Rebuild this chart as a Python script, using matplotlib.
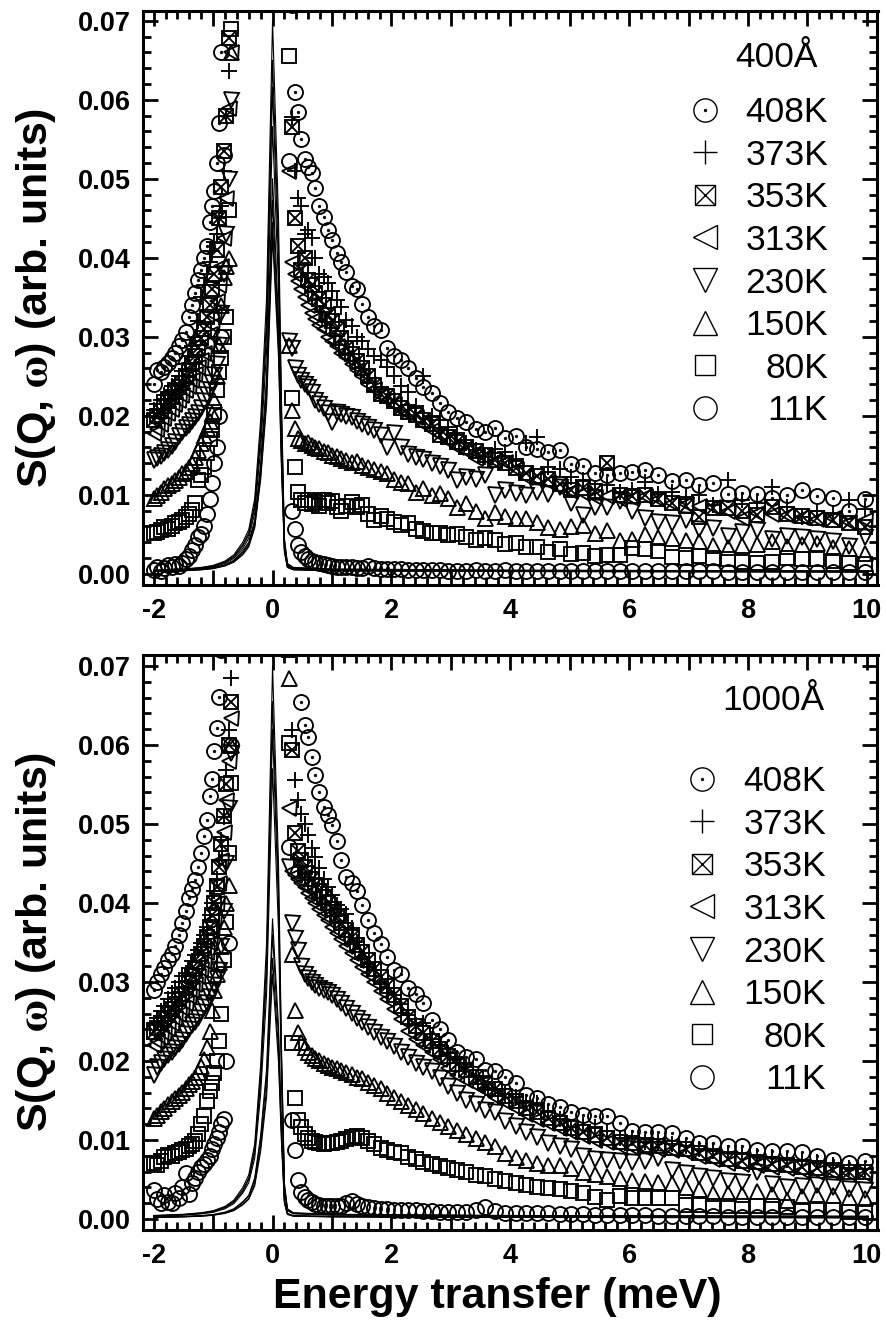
import numpy as np
import matplotlib.pyplot as plt
from matplotlib.ticker import MultipleLocator, FuncFormatter

plt.rcParams['font.family'] = ['Liberation Sans', 'DejaVu Sans']
plt.rcParams['font.weight'] = 'bold'
plt.rcParams['mathtext.fontset'] = 'stix'
plt.rcParams['axes.unicode_minus'] = False

W, H = 887, 1321

# energy channels (meV), gain side and loss side
E_GAIN = [-2.00, -1.94, -1.88, -1.82, -1.76, -1.70, -1.64, -1.58, -1.52, -1.46,
          -1.40, -1.35, -1.30, -1.25, -1.20, -1.15, -1.10, -1.06, -1.02, -0.98,
          -0.94, -0.90, -0.86, -0.82, -0.78, -0.74, -0.70]
E_LOSS = [0.28, 0.33, 0.38, 0.43, 0.48, 0.54, 0.60, 0.66, 0.72, 0.79,
          0.86, 0.93, 1.00, 1.08, 1.16, 1.24, 1.33, 1.42, 1.51, 1.61,
          1.71, 1.82, 1.93, 2.04, 2.16, 2.28, 2.41, 2.54, 2.68, 2.82,
          2.96, 3.11, 3.26, 3.42, 3.58, 3.75, 3.92, 4.09, 4.27, 4.45,
          4.64, 4.83, 5.02, 5.22, 5.42, 5.63, 5.84, 6.05, 6.27, 6.49,
          6.72, 6.95, 7.18, 7.42, 7.66, 7.90, 8.15, 8.40, 8.65, 8.91,
          9.17, 9.43, 9.70, 9.97]

TEMPS = ["408K", "373K", "353K", "313K", "230K", "150K", "80K", "11K"]

# ---- 400 A sample, S(Q,w) in units of 1e-3 ----
a408_gain = [24.0, 25.8, 25.5, 26.2, 26.7, 27.3, 28.0, 28.8, 29.6, 30.6,
             32.5, 34.0, 35.5, 37.2, 38.5, 40.0, 41.5, 44.5, 46.5, 48.5,
             52.0, 57.0, 66.0, 74.0, 80.0, 84.0, 88.0]
a408_loss = [74.0, 72.0, 61.0, 58.5, 55.0, 52.5, 51.5, 50.7, 48.8, 46.5,
             45.2, 43.5, 42.2, 40.6, 39.5, 38.2, 36.4, 36.0, 34.1, 32.5,
             31.4, 30.8, 28.6, 27.5, 27.0, 26.0, 24.8, 23.6, 22.9, 21.6,
             20.5, 19.7, 19.2, 18.3, 18.0, 18.4, 17.2, 17.4, 16.1, 15.8,
             15.4, 15.7, 13.9, 13.6, 12.8, 12.5, 12.7, 12.9, 13.1, 12.5,
             11.7, 11.8, 11.2, 11.5, 10.1, 10.2, 10.1, 9.6, 10.0, 10.6,
             9.8, 9.6, 7.9, 9.5]
a373_gain = [20.7, 21.5, 22.0, 22.6, 23.0, 23.7, 24.2, 25.0, 25.6, 26.5,
             27.5, 28.8, 30.0, 32.0, 35.0, 36.5, 38.0, 39.5, 40.8, 42.0,
             43.0, 45.0, 46.5, 51.0, 58.0, 63.6, 78.0]
a373_loss = [72.0, 57.8, 51.0, 47.5, 46.5, 43.0, 43.5, 42.5, 40.0, 38.0,
             37.5, 36.8, 35.8, 34.6, 33.8, 32.1, 31.3, 30.0, 29.5, 28.5,
             27.6, 27.0, 26.2, 25.0, 23.7, 23.0, 21.2, 25.0, 20.0, 19.5,
             18.6, 17.8, 16.5, 15.6, 14.8, 15.8, 15.4, 14.5, 16.5, 17.3,
             13.5, 13.3, 12.3, 11.8, 10.6, 11.2, 10.4, 10.6, 11.6, 10.1,
             10.3, 9.7, 9.9, 8.7, 11.8, 9.3, 9.0, 11.0, 8.5, 7.2,
             8.0, 7.6, 9.3, 8.2]
a353_gain = [19.5, 20.0, 20.6, 21.2, 21.8, 22.4, 23.0, 23.6, 24.2, 25.0,
             25.8, 26.6, 27.6, 28.6, 29.8, 31.0, 32.5, 34.0, 36.0, 38.0,
             41.0, 45.0, 49.0, 53.5, 58.0, 67.8, 76.0]
a353_loss = [72.0, 56.6, 45.0, 41.5, 38.5, 40.0, 37.2, 36.5, 35.5, 34.8,
             34.0, 32.8, 32.0, 31.0, 29.8, 28.6, 27.8, 26.9, 26.0, 25.0,
             23.9, 22.7, 22.5, 21.8, 21.0, 20.5, 20.1, 19.4, 19.0, 17.6,
             17.3, 16.7, 16.0, 15.5, 15.0, 14.4, 14.0, 13.4, 12.8, 12.4,
             12.0, 11.3, 10.6, 10.8, 10.5, 14.0, 10.0, 9.8, 10.0, 9.4,
             8.9, 8.6, 7.2, 8.3, 8.3, 7.9, 7.4, 8.5, 7.6, 7.3,
             7.0, 6.8, 6.4, 5.9]
a313_gain = [17.8, 18.3, 19.0, 19.7, 20.3, 20.9, 21.5, 22.0, 22.6, 23.2,
             23.8, 24.5, 25.3, 26.2, 27.0, 28.0, 29.2, 30.3, 31.5, 32.8,
             34.5, 36.5, 39.0, 42.5, 47.5, 59.0, 66.0]
a313_loss = [51.0, 39.5, 38.0, 37.0, 36.0, 35.0, 34.0, 33.0, 32.3, 31.5,
             31.0, 30.0, 29.5, 28.8, 28.0, 27.4, 26.5, 25.8, 25.0, 24.0,
             23.4, 22.5, 22.0, 21.5, 20.7, 20.3, 19.9, 19.0, 18.2, 17.5,
             16.8, 16.0, 15.5, 14.6, 14.8, 14.3, 14.2, 13.2, 12.3, 12.0,
             11.6, 10.9, 10.5, 10.2, 9.7, 9.8, 9.5, 9.6, 9.8, 9.4,
             9.0, 8.8, 8.6, 8.5, 8.0, 7.0, 7.7, 7.5, 7.4, 7.2,
             6.9, 7.0, 6.6, 6.8]
a230_gain = [14.4, 14.6, 14.9, 15.3, 15.7, 16.2, 16.7, 17.4, 17.9, 18.4,
             18.8, 19.3, 19.8, 20.4, 21.0, 21.8, 22.6, 23.3, 24.2, 25.2,
             26.5, 29.0, 33.0, 38.0, 43.0, 50.0, 60.0]
a230_loss = [29.5, 28.6, 26.0, 25.2, 24.5, 24.0, 23.6, 23.0, 22.0, 21.5,
             21.0, 20.3, 19.2, 20.5, 20.2, 20.0, 19.8, 19.3, 19.0, 18.6,
             18.2, 17.5, 16.1, 17.8, 16.0, 15.2, 14.8, 14.5, 14.0, 13.6,
             13.1, 11.8, 12.2, 12.0, 12.5, 9.9, 10.6, 10.2, 10.0, 10.3,
             10.1, 11.0, 8.9, 7.4, 8.5, 8.5, 9.2, 8.0, 7.1, 6.6,
             6.4, 6.8, 5.6, 5.8, 4.8, 5.3, 5.5, 4.4, 4.8, 4.6,
             4.4, 4.2, 3.5, 4.6]
a150_gain = [9.6, 10.0, 10.4, 10.8, 11.2, 11.5, 11.9, 12.3, 12.7, 13.0,
             13.5, 14.0, 14.8, 15.6, 16.5, 17.5, 18.5, 19.3, 20.3, 22.0,
             25.0, 29.0, 34.0, 37.6, 39.0, 40.0, 66.0]
a150_loss = [29.0, 20.7, 18.5, 17.2, 16.9, 16.6, 16.7, 16.3, 16.0, 15.9,
             15.5, 15.4, 15.0, 14.9, 14.6, 14.4, 14.1, 14.3, 13.7, 13.5,
             13.3, 13.0, 12.7, 12.0, 11.6, 11.5, 10.4, 10.8, 9.9, 10.2,
             9.6, 8.4, 9.0, 8.0, 7.1, 7.8, 7.3, 7.0, 7.0, 6.6,
             5.9, 5.6, 6.0, 6.2, 5.1, 5.5, 4.3, 4.4, 5.0, 4.6,
             4.5, 4.3, 4.2, 3.6, 3.4, 3.6, 3.8, 4.2, 3.5, 3.7,
             3.9, 3.4, 3.3, 2.6]
a80_gain = [5.1, 5.3, 5.5, 5.9, 5.7, 6.1, 6.4, 6.6, 6.8, 7.2,
            7.6, 8.1, 9.0, 11.9, 12.5, 13.5, 15.3, 17.0, 18.2, 20.5,
            23.3, 25.5, 27.3, 30.0, 32.5, 46.0, 69.0]
a80_loss = [65.5, 22.2, 13.5, 10.4, 9.3, 9.0, 9.3, 8.8, 9.1, 8.6,
            9.3, 8.9, 9.2, 8.5, 8.0, 8.6, 9.1, 8.4, 8.7, 7.6,
            6.8, 7.3, 6.9, 6.6, 6.2, 6.4, 5.6, 5.4, 5.2, 5.1,
            4.9, 5.0, 4.6, 4.3, 4.5, 4.3, 3.7, 3.9, 3.4, 3.4,
            2.8, 3.1, 2.5, 2.6, 2.2, 2.4, 2.4, 3.2, 3.1, 2.9,
            2.1, 2.0, 2.2, 2.0, 1.9, 1.5, 1.4, 1.5, 2.0, 1.8,
            1.8, 1.6, 1.3, 1.2]
a11_gain = [0.5, 0.9, 0.4, 0.7, 1.1, 0.8, 1.2, 1.0, 1.4, 1.9,
            2.3, 3.0, 3.6, 4.6, 5.0, 6.0, 7.5, 9.5, 11.5, 14.0,
            16.0, 20.0, 30.0, 53.0, 75.0, 80.0, 85.0]
a11_loss = [52.3, 8.0, 5.6, 3.6, 2.7, 2.2, 1.8, 1.6, 1.5, 1.3,
            1.2, 1.1, 1.0, 0.9, 0.9, 0.8, 0.8, 0.7, 0.7, 1.0,
            0.7, 0.6, 0.6, 0.6, 0.6, 0.5, 0.5, 0.5, 0.5, 0.5,
            0.4, 0.4, 0.4, 0.5, 0.4, 0.4, 0.5, 0.4, 0.4, 0.4,
            0.3, 0.4, 0.3, 0.3, 0.3, 0.3, 0.3, 0.3, 0.3, 0.3,
            0.3, 0.3, 0.3, 0.3, 0.2, 0.2, 0.2, 0.2, 0.2, 0.2,
            0.2, 0.2, 0.2, 0.2]

# ---- 1000 A sample ----
b408_gain = [29.0, 30.0, 31.0, 31.8, 32.8, 33.5, 34.6, 36.0, 37.5, 39.0,
             40.6, 41.8, 42.9, 44.6, 46.3, 48.5, 50.5, 53.5, 55.7, 59.2,
             62.1, 66.1, 72.0, 76.0, 80.0, 84.0, 88.0]
b408_loss = [75.0, 74.0, 73.5, 73.5, 65.5, 62.5, 61.0, 58.5, 56.2, 54.0,
             52.2, 51.2, 49.9, 47.8, 45.5, 43.3, 42.5, 41.5, 39.8, 37.8,
             36.2, 34.8, 33.2, 31.5, 31.0, 29.2, 28.5, 27.3, 25.2, 24.0,
             22.6, 21.2, 20.5, 20.2, 18.9, 18.7, 18.0, 17.2, 15.7, 15.3,
             14.6, 14.2, 13.6, 13.2, 13.0, 13.0, 12.1, 11.1, 11.0, 11.0,
             10.9, 10.3, 9.6, 9.6, 9.2, 9.2, 8.7, 8.6, 8.6, 8.5,
             8.0, 7.5, 7.1, 7.3]
b373_gain = [24.8, 25.5, 26.3, 27.0, 27.8, 28.6, 29.3, 30.0, 30.7, 31.1,
             31.8, 32.6, 33.4, 34.0, 35.0, 36.0, 37.0, 38.5, 40.0, 41.5,
             43.0, 45.5, 48.0, 50.9, 56.8, 61.9, 68.5]
b373_loss = [73.0, 61.9, 55.6, 53.0, 51.3, 50.0, 48.6, 47.0, 45.8, 44.4,
             43.0, 42.0, 41.0, 39.8, 39.3, 38.6, 36.8, 35.1, 33.0, 32.3,
             31.5, 30.0, 29.2, 28.3, 27.2, 25.8, 24.6, 24.8, 22.8, 22.0,
             21.0, 20.4, 19.3, 18.0, 16.6, 16.4, 15.8, 15.4, 14.8, 14.7,
             13.6, 12.6, 11.7, 11.9, 11.7, 11.2, 10.3, 10.2, 9.8, 9.8,
             9.5, 9.2, 8.8, 8.6, 8.4, 8.3, 8.0, 7.8, 7.5, 7.4,
             7.2, 6.8, 6.5, 6.3]
b353_gain = [23.7, 24.2, 24.8, 25.3, 26.0, 26.6, 27.2, 27.8, 28.5, 29.2,
             30.0, 30.8, 31.6, 32.5, 33.5, 34.5, 35.7, 37.0, 38.5, 40.0,
             42.0, 44.5, 47.5, 51.0, 55.0, 60.0, 65.5]
b353_loss = [72.0, 59.4, 48.9, 46.6, 45.5, 44.6, 43.8, 43.0, 42.3, 41.5,
             40.8, 40.0, 39.2, 38.4, 37.5, 36.6, 35.7, 34.7, 33.8, 32.8,
             31.7, 30.6, 29.5, 28.3, 27.0, 25.6, 24.4, 23.5, 22.5, 21.5,
             20.6, 19.6, 18.9, 18.0, 17.2, 16.4, 15.6, 14.9, 14.1, 13.5,
             12.8, 12.1, 11.5, 11.0, 10.6, 10.3, 9.8, 9.6, 9.4, 9.2,
             9.0, 8.8, 8.4, 8.0, 7.6, 7.4, 7.2, 7.0, 6.8, 6.6,
             6.4, 6.2, 6.0, 5.9]
b313_gain = [22.0, 22.5, 23.0, 23.6, 24.2, 24.8, 25.4, 26.0, 26.7, 27.4,
             28.2, 29.0, 29.8, 30.7, 31.6, 32.6, 33.8, 35.0, 36.4, 38.0,
             40.0, 42.5, 45.5, 49.0, 53.0, 58.0, 63.4]
b313_loss = [52.0, 44.0, 43.5, 43.0, 42.5, 42.0, 41.3, 40.6, 40.0, 39.2,
             38.5, 37.8, 37.0, 36.2, 35.4, 34.6, 33.7, 32.8, 31.9, 31.0,
             30.0, 28.9, 27.8, 26.6, 25.3, 23.8, 22.8, 22.0, 21.2, 20.2,
             19.1, 18.2, 17.6, 17.0, 16.3, 15.5, 14.8, 14.0, 13.3, 12.7,
             12.1, 11.5, 11.0, 10.5, 10.0, 9.7, 9.3, 9.1, 9.0, 8.8,
             8.7, 8.5, 8.0, 7.6, 7.1, 7.0, 6.8, 6.6, 6.4, 6.2,
             6.0, 5.9, 5.8, 5.7]
b230_gain = [18.2, 19.3, 19.8, 20.3, 20.8, 21.2, 21.6, 22.1, 22.7, 23.4,
             24.0, 24.5, 25.0, 25.5, 26.2, 26.8, 27.4, 28.1, 28.8, 29.6,
             30.4, 31.5, 34.5, 39.0, 45.0, 52.0, 59.0]
b230_loss = [44.6, 37.5, 35.6, 34.0, 32.0, 31.0, 30.5, 30.0, 29.6, 29.3,
             29.0, 28.7, 28.4, 27.9, 27.3, 26.7, 26.1, 25.5, 24.9, 24.3,
             23.7, 23.0, 22.5, 21.9, 21.2, 20.5, 19.7, 19.2, 18.7, 17.8,
             16.8, 15.9, 15.1, 14.5, 13.8, 13.5, 12.4, 11.8, 11.0, 10.4,
             9.6, 9.2, 8.8, 8.0, 7.6, 7.5, 7.3, 7.2, 7.4, 7.7,
             6.2, 5.8, 5.4, 5.2, 4.8, 4.7, 5.9, 4.4, 4.1, 4.2,
             4.3, 4.1, 3.8, 3.7]
b150_gain = [12.8, 13.2, 13.7, 14.1, 14.5, 14.9, 15.3, 15.7, 16.1, 16.6,
             17.1, 17.5, 18.0, 18.6, 19.4, 20.3, 21.8, 23.8, 26.5, 29.0,
             31.0, 32.5, 34.5, 37.0, 40.0, 42.3, 60.0]
b150_loss = [68.5, 33.6, 26.5, 23.7, 22.4, 21.8, 21.2, 20.8, 20.4, 20.1,
             19.8, 19.5, 19.3, 19.1, 18.9, 18.6, 18.4, 18.0, 17.8, 17.4,
             17.0, 16.6, 16.0, 15.4, 14.9, 14.4, 13.9, 13.4, 12.8, 12.3,
             11.8, 11.3, 10.8, 10.3, 9.8, 9.2, 8.4, 7.9, 7.5, 7.1,
             6.9, 6.8, 6.5, 6.0, 5.7, 5.4, 5.2, 5.0, 4.8, 4.7,
             4.5, 4.1, 3.8, 3.3, 3.3, 3.2, 3.5, 3.2, 2.4, 2.9,
             3.1, 3.0, 2.8, 2.7]
b80_gain = [7.1, 6.8, 7.3, 7.8, 8.1, 8.0, 8.3, 8.5, 8.7, 8.9,
            9.2, 9.5, 9.9, 10.8, 12.0, 13.0, 15.0, 16.2, 17.2, 18.5,
            20.0, 22.5, 26.0, 32.8, 37.6, 46.3, 55.2]
b80_loss = [60.2, 22.3, 15.3, 12.5, 11.7, 10.8, 10.2, 9.9, 9.7, 9.6,
            9.5, 9.6, 9.6, 9.8, 9.9, 10.1, 10.4, 10.5, 10.2, 9.9,
            9.5, 9.0, 8.7, 8.5, 8.3, 7.9, 7.6, 7.2, 7.0, 6.7,
            6.4, 6.2, 5.9, 5.6, 5.4, 5.1, 4.8, 4.6, 4.3, 4.1,
            3.9, 3.8, 3.6, 3.3, 2.8, 2.4, 2.9, 2.7, 2.7, 2.6,
            2.6, 1.8, 1.8, 1.7, 1.7, 1.7, 1.7, 1.6, 1.5, 1.1,
            1.3, 1.1, 0.9, 0.9]
b11_gain = [3.7, 2.5, 2.0, 3.0, 2.2, 2.0, 3.3, 2.6, 4.0, 5.8,
            3.2, 4.5, 5.2, 6.0, 6.6, 7.0, 7.5, 8.0, 8.8, 9.5,
            10.3, 11.0, 12.0, 12.7, 20.0, 35.0, 60.0]
b11_loss = [47.1, 12.5, 8.7, 4.9, 3.4, 2.8, 2.4, 2.1, 1.9, 1.8,
            1.7, 1.7, 1.6, 1.6, 1.7, 2.0, 2.3, 1.9, 1.6, 1.5,
            1.4, 1.3, 1.3, 1.2, 1.2, 1.1, 1.1, 1.0, 1.0, 0.9,
            0.9, 0.9, 0.9, 1.1, 1.5, 1.0, 0.8, 0.8, 0.7, 0.7,
            0.7, 0.6, 0.6, 0.6, 0.5, 0.5, 0.5, 0.5, 0.5, 0.4,
            0.4, 0.4, 0.4, 0.4, 0.3, 0.3, 0.3, 0.3, 0.3, 0.3,
            0.2, 0.2, 0.2, 0.2]

# ---- resolution / elastic lines (1e-3) ----
LINE_E = [-2.0, -1.5, -1.2, -1.0, -0.8, -0.65, -0.5, -0.4, -0.3, -0.2,
          -0.1, 0.0, 0.1, 0.15, 0.2, 0.25, 0.35, 1.0, 4.0, 10.0]
a_lines = [
    [0.45, 0.6, 0.8, 1.05, 1.6, 2.4, 4.0, 5.6, 9.5, 19.5, 35.0, 70.0, 45.0, 22.0, 4.5, 1.3, 0.8, 0.6, 0.45, 0.35],
    [0.42, 0.56, 0.74, 0.98, 1.49, 2.23, 3.7, 5.2, 8.8, 18.1, 32.5, 65.0, 41.8, 20.4, 4.2, 1.2, 0.74, 0.56, 0.42, 0.33],
    [0.40, 0.53, 0.70, 0.92, 1.41, 2.11, 3.5, 4.9, 8.4, 17.2, 30.8, 61.6, 39.6, 19.4, 4.0, 1.14, 0.70, 0.53, 0.40, 0.31],
    [0.36, 0.49, 0.65, 0.85, 1.29, 1.94, 3.2, 4.5, 7.7, 15.8, 28.3, 56.6, 36.4, 17.8, 3.6, 1.05, 0.65, 0.49, 0.36, 0.28],
    [0.32, 0.43, 0.57, 0.75, 1.14, 1.71, 2.9, 4.0, 6.8, 13.9, 25.0, 50.0, 32.1, 15.7, 3.2, 0.93, 0.57, 0.43, 0.32, 0.25],
    [0.30, 0.41, 0.54, 0.71, 1.08, 1.62, 2.7, 3.8, 6.4, 13.2, 23.7, 47.3, 30.4, 14.9, 3.0, 0.88, 0.54, 0.41, 0.30, 0.24],
    [0.29, 0.38, 0.51, 0.67, 1.02, 1.53, 2.5, 3.6, 6.0, 12.4, 22.3, 44.5, 28.6, 14.0, 2.9, 0.83, 0.51, 0.38, 0.29, 0.22],
    [0.27, 0.37, 0.49, 0.64, 0.98, 1.46, 2.4, 3.4, 5.8, 11.9, 21.4, 42.7, 27.5, 13.4, 2.7, 0.79, 0.49, 0.37, 0.27, 0.21],
]
b_lines = [
    [0.45, 0.6, 0.8, 1.05, 1.6, 2.4, 4.0, 5.6, 9.5, 19.5, 35.0, 70.0, 45.0, 22.0, 4.5, 1.3, 0.8, 0.6, 0.45, 0.35],
    [0.42, 0.56, 0.75, 0.98, 1.50, 2.25, 3.7, 5.2, 8.9, 18.3, 32.8, 65.5, 42.1, 20.6, 4.2, 1.22, 0.75, 0.56, 0.42, 0.33],
    [0.40, 0.53, 0.71, 0.93, 1.42, 2.13, 3.5, 5.0, 8.4, 17.3, 31.0, 62.0, 39.9, 19.5, 4.0, 1.15, 0.71, 0.53, 0.40, 0.31],
    [0.37, 0.49, 0.65, 0.85, 1.30, 1.95, 3.3, 4.6, 7.7, 15.9, 28.5, 57.0, 36.6, 17.9, 3.7, 1.06, 0.65, 0.49, 0.37, 0.28],
    [0.24, 0.33, 0.43, 0.57, 0.87, 1.30, 2.2, 3.0, 5.2, 10.6, 19.0, 38.0, 24.4, 11.9, 2.4, 0.71, 0.43, 0.33, 0.24, 0.19],
    [0.23, 0.31, 0.41, 0.54, 0.82, 1.23, 2.1, 2.9, 4.9, 10.0, 18.0, 36.0, 23.1, 11.3, 2.3, 0.67, 0.41, 0.31, 0.23, 0.18],
    [0.21, 0.28, 0.38, 0.49, 0.75, 1.13, 1.9, 2.6, 4.5, 9.2, 16.5, 33.0, 21.2, 10.4, 2.1, 0.61, 0.38, 0.28, 0.21, 0.16],
    [0.20, 0.27, 0.35, 0.47, 0.71, 1.06, 1.8, 2.5, 4.2, 8.6, 15.5, 31.0, 19.9, 9.7, 2.0, 0.58, 0.35, 0.27, 0.20, 0.16],
]

a_series = [(a408_gain, a408_loss), (a373_gain, a373_loss), (a353_gain, a353_loss),
            (a313_gain, a313_loss), (a230_gain, a230_loss), (a150_gain, a150_loss),
            (a80_gain, a80_loss), (a11_gain, a11_loss)]
b_series = [(b408_gain, b408_loss), (b373_gain, b373_loss), (b353_gain, b353_loss),
            (b313_gain, b313_loss), (b230_gain, b230_loss), (b150_gain, b150_loss),
            (b80_gain, b80_loss), (b11_gain, b11_loss)]


def mark(ax, x, y, temp, k=1.0, mew=1.35, **kw):
    # k scales the marker size (legend symbols are drawn bigger)
    base = dict(ls='none', mfc='none', mec='black', mew=mew)
    if temp == "408K":
        ax.plot(x, y, marker='o', ms=10.8 * k, **base, **kw)
        ax.plot(x, y, marker='o', ms=2.0, ls='none', mfc='black', mec='black', mew=0.4, **kw)
    elif temp == "373K":
        ax.plot(x, y, marker='+', ms=11.5 * k, **base, **kw)
    elif temp == "353K":
        ax.plot(x, y, marker='s', ms=9.6 * k, **base, **kw)
        ax.plot(x, y, marker='x', ms=9.6 * k, **base, **kw)
    elif temp == "313K":
        ax.plot(x, y, marker='<', ms=10.8 * k, **base, **kw)
    elif temp == "230K":
        ax.plot(x, y, marker='v', ms=10.8 * k, **base, **kw)
    elif temp == "150K":
        ax.plot(x, y, marker='^', ms=10.8 * k, **base, **kw)
    elif temp == "80K":
        ax.plot(x, y, marker='s', ms=9.6 * k, **base, **kw)
    else:
        ax.plot(x, y, marker='o', ms=10.8 * k, **base, **kw)


def px_axes(ax, px, py):
    return ax.transAxes.inverted().transform((px, H - py))


fig = plt.figure(figsize=(W / 100, H / 100), dpi=100)
ax1 = fig.add_axes([143 / W, 1 - 585 / H, 734.5 / W, 574.3 / H])
ax2 = fig.add_axes([143 / W, 1 - 1230 / H, 734.5 / W, 575 / H])

panels = [
    (ax1, a_series, a_lines, "400Å", (818, 66.7), 705, 828, 122.2, (-0.00143, 0.07127)),
    (ax2, b_series, b_lines, "1000Å", (825, 709.7), 702, 826, 791.2, (-0.00139, 0.07139)),
]

E_ALL = np.array(E_GAIN + E_LOSS)

for ax, series, lines, tag, tag_px, mx_px, tx_px, base0, ylim in panels:
    for ln in lines:
        ax.plot(LINE_E, np.array(ln) * 1e-3, color='black', lw=0.8, zorder=1)
    for temp, (g, l) in zip(TEMPS[::-1], series[::-1]):
        y = np.array(g + l) * 1e-3
        mark(ax, E_ALL, y, temp, zorder=2)

    ax.set_xlim(-2.18, 10.18)
    ax.set_ylim(*ylim)
    ax.xaxis.set_major_locator(MultipleLocator(1))
    ax.xaxis.set_minor_locator(MultipleLocator(0.2))
    ax.xaxis.set_major_formatter(FuncFormatter(
        lambda v, p: str(int(round(v))) if int(round(v)) % 2 == 0 else ""))
    ax.yaxis.set_major_locator(MultipleLocator(0.01))
    ax.yaxis.set_minor_locator(MultipleLocator(0.002))
    ax.yaxis.set_major_formatter(FuncFormatter(lambda v, p: f"{abs(v):.2f}"))
    ax.tick_params(which='both', direction='in', top=True, right=True, width=2.0)
    ax.tick_params(which='major', length=11)
    ax.tick_params(which='minor', length=6)
    ax.tick_params(axis='x', pad=9.5, labelsize=19.5)
    ax.tick_params(axis='y', pad=8.5, labelsize=19.5)
    for s in ax.spines.values():
        s.set_linewidth(2.2)

    # legend drawn by hand, text right-aligned
    tx, ty = px_axes(ax, *tag_px)
    ax.text(tx, ty, tag, transform=ax.transAxes, ha='right', va='baseline',
            fontsize=25.5, fontweight='normal')
    for i, temp in enumerate(TEMPS):
        base_py = base0 + 42.6 * i
        mx, my = px_axes(ax, mx_px, base_py - 12.7)
        mark(ax, [mx], [my], temp, k=1.55, mew=1.0, transform=ax.transAxes, clip_on=False)
        tx, ty = px_axes(ax, tx_px, base_py)
        ax.text(tx, ty, temp, transform=ax.transAxes, ha='right', va='baseline',
                fontsize=25.5, fontweight='normal')

ylab = r"S(Q, $\mathrm{\omega}$) (arb. units)"
fig.text(36 / W, 1 - 298 / H, ylab, rotation=90, ha='center', va='center', fontsize=31)
fig.text(36 / W, 1 - 942 / H, ylab, rotation=90, ha='center', va='center', fontsize=31)
fig.text(497 / W, 1 - 1308 / H, "Energy transfer (meV)", ha='center', va='baseline', fontsize=31)

fig.savefig("out.png", dpi=100)
